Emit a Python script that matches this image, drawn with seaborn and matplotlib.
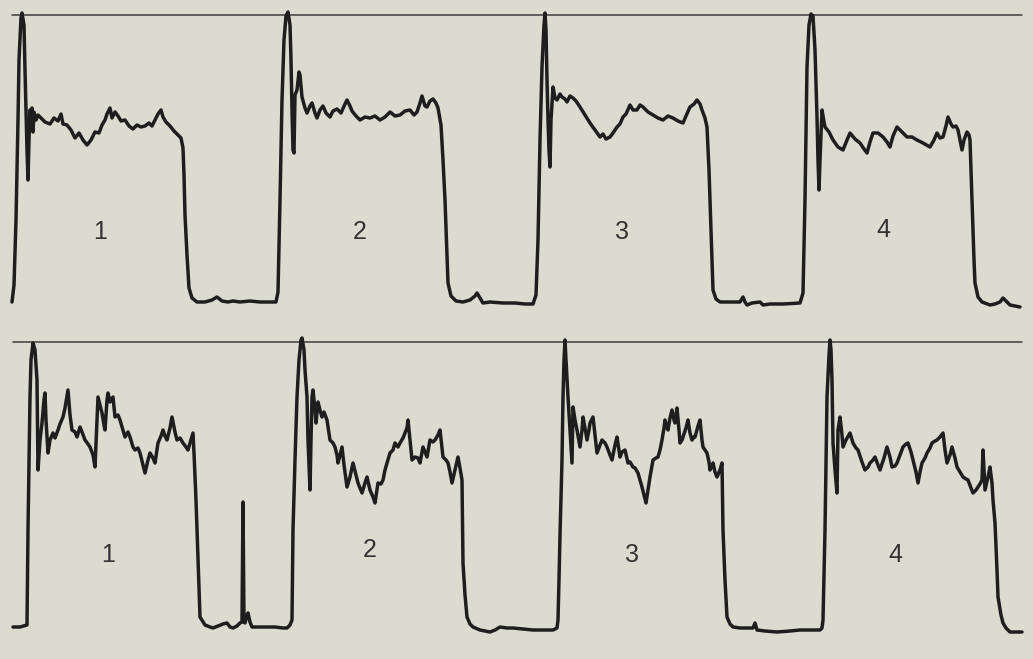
import matplotlib
matplotlib.use("Agg")
import matplotlib.pyplot as plt
import seaborn as sns
import pandas as pd

# ---- data (x = sweep position, y = trace level, screen units) ----
top_trace = [
    (12,302),(14,285),(16,220),(18,120),(19,60),(21,18),(22,13),(24,25),(25,70),(27,150),(28,180),(29,140),
    (30,110),(31,125),(32,108),(33,132),(34,112),(36,120),(38,115),(41,118),(45,122),(50,124),(54,118),(58,121),
    (61,114),(63,124),(67,125),(71,130),(75,138),(79,133),(83,140),(87,145),(91,140),(95,132),(99,133),(102,125),
    (105,120),(107,114),(110,108),(112,118),(115,112),(118,116),(121,121),(125,120),(129,126),(133,129),(137,125),
    (141,127),(145,126),(149,123),(152,126),(155,120),(158,114),(161,110),(163,117),(166,122),(170,126),(174,131),
    (178,135),(181,138),(183,148),(184,175),(185,215),(187,255),(189,288),(192,298),(197,302),(205,302),(212,300),
    (217,297),(222,301),(228,302),(233,301),(240,302),(250,301),(260,302),(270,302),(276,302),(278,292),(280,200),
    (282,100),(284,40),(286,16),(288,12),(290,25),(291,60),(292,110),(293,150),(294,153),(295,95),(297,90),(299,72),
    (300,75),(302,97),(305,108),(307,113),(310,106),(312,103),(315,113),(317,118),(320,110),(323,106),(326,113),
    (330,117),(333,111),(337,109),(341,113),(345,104),(347,100),(350,106),(352,111),(356,116),(360,120),(365,117),
    (370,118),(375,116),(380,120),(385,117),(390,112),(395,116),(400,115),(405,111),(410,110),(414,115),(417,112),
    (420,103),(422,96),(425,106),(427,107),(430,101),(433,99),(436,103),(438,108),(441,125),(443,160),(445,200),
    (447,255),(448,283),(451,296),(456,301),(463,302),(470,300),(475,296),(477,293),(480,298),(483,303),(490,302),
    (503,303),(515,303),(525,304),(533,304),(536,295),(538,240),(540,140),(542,67),(544,25),(545,13),(546,30),
    (547,80),(548,120),(549,150),(550,167),(551,120),(553,87),(555,98),(557,100),(560,94),(562,97),(565,99),
    (567,102),(570,96),(573,98),(576,101),(580,107),(585,115),(590,123),(595,130),(600,137),(603,134),(606,139),
    (610,137),(613,133),(617,127),(620,124),(623,117),(626,114),(630,105),(633,110),(637,110),(640,105),(643,107),
    (648,112),(653,115),(658,118),(663,120),(668,116),(673,118),(678,121),(683,123),(686,116),(690,107),(694,104),
    (697,100),(700,104),(702,110),(705,118),(707,127),(709,170),(710,200),(712,260),(713,290),(716,299),(720,302),
    (730,302),(740,302),(743,297),(745,302),(747,305),(752,303),(760,302),(763,305),(770,304),(783,304),(800,303),
    (803,293),(805,200),(807,67),(809,25),(811,14),(813,16),(815,50),(817,117),(818,160),(819,190),(820,160),
    (822,110),(824,122),(825,127),(829,132),(833,140),(838,147),(843,150),(847,140),(850,133),(855,139),(860,143),
    (864,149),(867,153),(870,142),(873,133),(878,133),(883,137),(887,142),(890,147),(893,136),(897,127),(902,132),
    (907,137),(912,137),(917,140),(923,143),(930,147),(934,140),(937,133),(940,138),(943,137),(946,126),(948,117),
    (951,124),(953,127),(956,126),(958,130),(960,140),(962,150),(964,140),(967,132),(969,135),(970,140),(971,170),
    (972,200),(974,260),(975,283),(978,297),(982,302),(990,305),(995,304),(1000,302),(1003,298),(1006,301),
    (1010,305),(1015,306),(1020,307),
]

bottom_trace = [
    (13,627),(20,627),(27,625),(28,530),(29,460),(30,397),(31,360),(33,343),(35,350),(37,380),(38,470),(40,440),
    (42,423),(44,400),(45,393),(46,420),(48,453),(50,440),(53,433),(55,438),(58,430),(60,424),(63,417),(65,408),
    (68,390),(70,415),(72,430),(75,432),(77,437),(80,427),(82,432),(85,440),(88,444),(90,447),(93,455),(95,467),
    (97,420),(98,397),(100,405),(102,413),(104,425),(105,430),(107,400),(108,393),(110,402),(113,397),(115,417),
    (118,415),(120,420),(123,430),(125,437),(128,432),(130,437),(133,447),(135,450),(138,448),(140,453),(143,465),
    (145,473),(148,460),(150,453),(153,458),(155,463),(158,443),(161,436),(163,430),(165,436),(167,440),(170,428),
    (172,417),(175,432),(177,440),(180,438),(183,443),(186,447),(188,450),(191,440),(193,433),(194,453),(196,500),
    (197,530),(199,590),(200,617),(205,625),(210,627),(213,628),(218,626),(223,624),(227,623),(230,627),(233,628),
    (237,626),(240,623),(242,622),(243,502),(244,622),(245,623),(247,615),(248,613),(250,622),(252,627),(260,627),
    (267,627),(275,627),(283,628),(287,628),(290,625),(292,620),(293,530),(295,460),(297,397),(299,360),(301,340),
    (302,338),(304,350),(305,370),(307,397),(308,440),(310,490),(311,440),(312,397),(313,390),(315,410),(316,423),
    (318,402),(320,410),(322,417),(324,412),(327,420),(330,440),(333,443),(335,447),(337,455),(338,463),(340,455),
    (342,447),(344,465),(347,487),(350,477),(352,468),(353,463),(356,475),(358,483),(360,488),(362,493),(365,483),
    (367,477),(370,490),(373,497),(375,503),(377,490),(378,483),(381,484),(383,480),(385,470),(387,463),(390,453),
    (393,450),(395,443),(398,447),(400,443),(403,438),(405,433),(407,428),(408,420),(410,440),(412,460),(415,457),
    (418,458),(420,463),(423,447),(425,452),(427,457),(430,440),(433,442),(435,440),(438,435),(440,430),(443,457),
    (446,460),(448,463),(450,472),(452,483),(455,470),(458,457),(460,468),(462,480),(463,563),(465,595),(467,617),
    (470,624),(473,627),(480,630),(490,632),(495,630),(500,627),(507,628),(513,628),(523,629),(533,630),(543,630),
    (553,630),(557,628),(558,620),(559,580),(560,535),(562,460),(563,397),(564,360),(565,340),(566,360),(568,397),
    (570,430),(572,463),(573,407),(575,420),(577,430),(580,447),(582,430),(583,417),(585,428),(587,440),(589,430),
    (590,423),(593,417),(595,435),(597,453),(600,445),(602,440),(605,443),(607,447),(610,455),(612,460),(615,445),
    (617,437),(620,457),(622,452),(625,450),(628,463),(630,462),(633,467),(635,468),(638,473),(640,480),(642,487),
    (644,495),(646,503),(648,490),(650,477),(652,466),(653,460),(656,458),(658,457),(660,450),(662,440),(664,428),
    (665,420),(667,428),(668,430),(670,418),(672,410),(674,420),(675,423),(677,408),(679,430),(680,443),(682,440),
    (683,437),(686,428),(688,420),(690,433),(692,440),(694,437),(695,437),(698,426),(700,420),(702,440),(703,447),
    (705,450),(707,453),(709,462),(710,470),(712,466),(713,463),(715,472),(717,477),(720,470),(722,463),(723,530),
    (725,580),(727,617),(730,624),(733,627),(740,628),(748,628),(753,628),(755,623),(757,630),(765,631),(777,632),
    (790,631),(800,630),(810,630),(820,630),(822,628),(823,620),(825,530),(827,397),(829,355),(830,340),(831,350),
    (832,380),(833,443),(835,470),(837,493),(838,430),(840,417),(842,435),(843,447),(846,440),(850,433),(853,443),
    (856,448),(858,450),(862,462),(865,470),(868,467),(870,463),(873,460),(875,457),(878,465),(880,470),(884,458),
    (887,447),(890,457),(892,467),(895,466),(897,463),(900,455),(903,447),(906,444),(908,443),(911,452),(913,460),
    (916,472),(918,483),(920,472),(922,463),(925,458),(927,453),(930,448),(932,443),(935,441),(937,440),(940,437),
    (943,433),(945,450),(947,463),(950,455),(952,447),(955,458),(957,467),(960,472),(963,477),(966,479),(968,480),
    (971,488),(973,493),(976,490),(978,487),(980,484),(982,480),(983,450),(984,470),(985,490),(988,477),(990,467),
    (992,483),(993,500),(995,523),(997,570),(998,597),(1001,615),(1003,623),(1006,628),(1010,632),(1016,632),
    (1022,632),
]

# reference (calibration) lines
top_ref_x = [12, 1022]
top_ref_y = [15, 15]
bottom_ref_x = [13, 1022]
bottom_ref_y = [342, 342]

# cycle labels
cycle_labels = ["1", "2", "3", "4"]
top_label_x = [100, 360, 622, 883]
top_label_y = [232, 232, 232, 230]
bottom_label_x = [108, 370, 632, 895]
bottom_label_y = [555, 550, 555, 555]

# ---- drawing ----
BG = "#dcdbd0"
INK = "#1e1e1e"

sns.set_theme(style="white")
plt.rcParams["font.family"] = ["Liberation Sans", "DejaVu Sans"]

fig = plt.figure(figsize=(10.33, 6.59), dpi=100, facecolor=BG)
ax = fig.add_axes([0, 0, 1, 1])
ax.set_facecolor(BG)

top_df = pd.DataFrame(top_trace, columns=["x", "y"])
bottom_df = pd.DataFrame(bottom_trace, columns=["x", "y"])

for rx, ry in [(top_ref_x, top_ref_y), (bottom_ref_x, bottom_ref_y)]:
    sns.lineplot(x=rx, y=ry, ax=ax, color="#3c3c3c", linewidth=1.1, sort=False, estimator=None)

for df in (top_df, bottom_df):
    sns.lineplot(data=df, x="x", y="y", ax=ax, color=INK, linewidth=2.5,
                 sort=False, estimator=None, solid_joinstyle="round", solid_capstyle="round")

for lab, lx, ly in zip(cycle_labels, top_label_x, top_label_y):
    ax.text(lx, ly, lab, ha="center", va="center", fontsize=18, color="#333333")
for lab, lx, ly in zip(cycle_labels, bottom_label_x, bottom_label_y):
    ax.text(lx, ly, lab, ha="center", va="center", fontsize=18, color="#333333")

ax.set_xlim(0, 1033)
ax.set_ylim(659, 0)
ax.set_axis_off()

fig.savefig("out.png", dpi=100, facecolor=BG)
